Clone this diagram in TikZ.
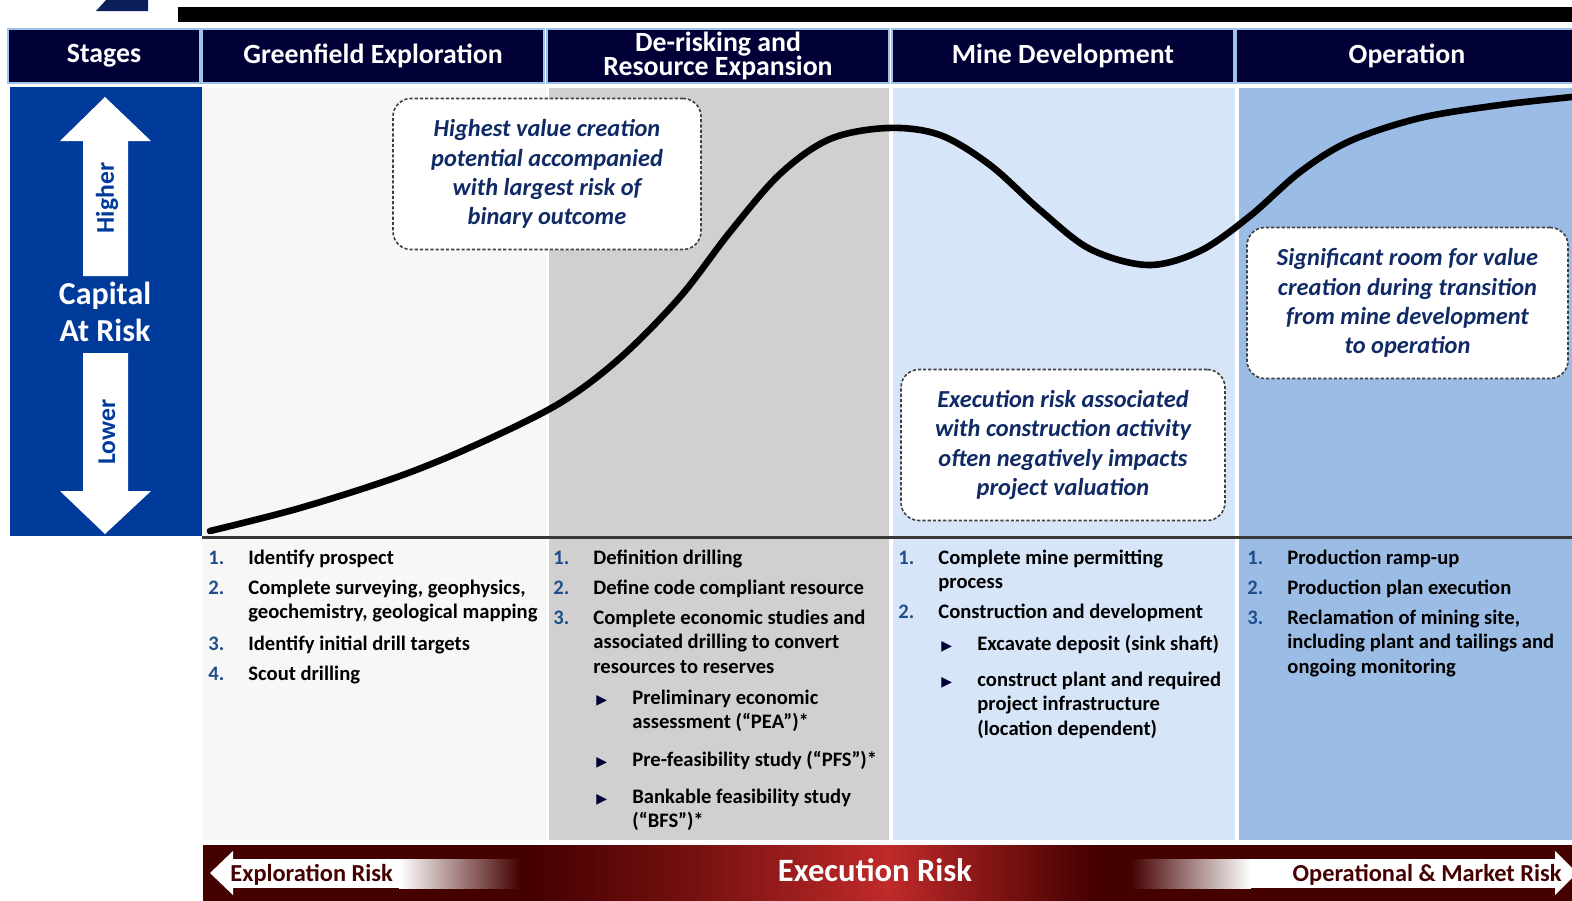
\documentclass[tikz,border=0pt]{standalone}
\usepackage{fontspec}
\setmainfont{Carlito}
\newfontfamily\symfont{DejaVu Sans}

\definecolor{navyhead}{RGB}{0,0,55}
\definecolor{headline}{RGB}{157,195,230}
\definecolor{capblue}{RGB}{0,59,155}
\definecolor{logoblue}{RGB}{10,31,92}
\definecolor{colgrey1}{RGB}{247,247,247}
\definecolor{colgrey2}{RGB}{208,208,208}
\definecolor{colblue1}{RGB}{214,229,248}
\definecolor{colblue2}{RGB}{155,189,229}
\definecolor{numblue}{RGB}{31,78,140}
\definecolor{calloutblue}{RGB}{16,42,102}
\definecolor{bardark}{RGB}{69,0,0}
\definecolor{barred}{RGB}{192,42,42}

\pgfdeclarehorizontalshading{riskbar}{100bp}{color(0bp)=(bardark); color(25bp)=(bardark);
  color(37bp)=(bardark); color(43bp)=(bardark!60!barred); color(50bp)=(barred);
  color(57.5bp)=(bardark); color(75bp)=(bardark); color(100bp)=(bardark)}

\tikzset{header/.style={draw=headline,line width=0.8pt,fill=navyhead,text=white,
                        font=\fontsize{13.9}{10.5}\selectfont\bfseries,align=center,
                        minimum height=27pt,inner sep=0pt}}
\tikzset{callout/.style={draw=black!75,fill=white,dash pattern=on 1.6pt off 1pt,
                         line width=0.8pt,rounded corners=9pt,align=center,
                         text=calloutblue,font=\fontsize{12.2}{14.6}\selectfont\bfseries\itshape,
                         minimum height=75.5pt,inner sep=0pt}}
\tikzset{listnum/.style={anchor=base west,inner sep=0pt,text=numblue,
                         font=\fontsize{10.3}{12.25}\selectfont\bfseries}}
\tikzset{listtxt/.style={anchor=base west,inner sep=0pt,
                         font=\fontsize{10.3}{12.25}\selectfont\bfseries}}
\tikzset{riskarrow/.style={anchor=base west,inner sep=0pt,text=bardark,
                           font=\fontsize{12.2}{13}\selectfont\bfseries}}
\tikzset{valuecurve/.style={line width=3.3pt,line cap=round}}

% numbered point: name, x, y (baseline), number, text
\newcommand{\stageitem}[5]{\node[listnum] (#1n) at (#2,#3) {#4.};
                           \node[listtxt] (#1) at (#2+40,#3) {\parbox[t]{160pt}{#5}};}
% sub point with triangle bullet
\newcommand{\stagesub}[4]{\node[listnum,text=navyhead] (#1n) at (#2,#3)
                             {\symfont\fontsize{7}{7}\selectfont ▶};
                          \node[listtxt] (#1) at (#2+36,#3) {\parbox[t]{130pt}{#4}};}

\begin{document}
\begin{tikzpicture}[x=0.5pt,y=-0.5pt]
    \useasboundingbox (0,0) rectangle (1572,900);
    % top strip
    \fill[logoblue] (96,11) -- (106,0) -- (148,0) -- (148,11) -- cycle;
    \fill[black] (178,7) rectangle (1572,22);
    % column backgrounds
    \fill[colgrey1] (202,88) rectangle (546,840);
    \fill[colgrey2] (549,88) rectangle (889,840);
    \fill[colblue1] (893,88) rectangle (1235,840);
    \fill[colblue2] (1239,88) rectangle (1572,840);
    \draw[black!78,line width=1.5pt] (202,537) -- (1572,537);
    % header row
    \foreach \cx/\w/\t [count=\hi] in {104/96/Stages,
                                       373/171/Greenfield Exploration,
                                       718/171/{De-risking and\\[-1.2pt]Resource Expansion},
                                       1063/171/Mine Development,
                                       1407/171/Operation}{%
          \node[header,minimum width=\w pt] (h\hi) at (\cx,56) {\t};
        }
    % capital at risk
    \fill[capblue] (10,87) rectangle (202,536);
    \fill[white] (105,97) -- (151,141) -- (128,141) -- (128,276) -- (83,276)
                 -- (83,141) -- (60,141) -- cycle;
    \fill[white] (83,353) -- (128,353) -- (128,491) -- (151,491) -- (105,534)
                 -- (60,491) -- (83,491) -- cycle;
    \node[rotate=90,text=capblue,font=\fontsize{12.8}{13}\selectfont\bfseries]
         (higher) at (107,198) {Higher};
    \node[rotate=90,text=capblue,font=\fontsize{12.8}{13}\selectfont\bfseries]
         (lower) at (107,432) {Lower};
    \node[text=white,align=center,font=\fontsize{16}{18.5}\selectfont\bfseries]
         (capital) at (105,312) {Capital\\At Risk};
    % value curve
    \draw[valuecurve] plot[smooth,tension=0.55] coordinates {(210,531) (300,508) (400,476)
        (480,443) (560,403) (620,358) (680,297) (730,232) (780,174) (830,139)
        (888,128) (940,135) (990,165) (1040,210) (1090,249) (1148,265) (1200,251)
        (1250,216) (1300,172) (1350,141) (1420,118) (1500,105) (1572,97)};
    % callouts
    \node[callout,minimum width=154pt] (c1) at (547,174)
         {Highest value creation\\potential accompanied\\with largest risk of\\binary outcome};
    \node[callout,minimum width=162pt] (c2) at (1063,445)
         {Execution risk associated\\with construction activity\\often negatively impacts\\project valuation};
    \node[callout,minimum width=160.5pt] (c3) at (1407.5,303)
         {Significant room for value\\creation during transition\\from mine development\\to operation};
    % stage activities
    \stageitem{ga}{208}{564}{1}{Identify prospect}
    \stageitem{gb}{208}{594}{2}{Complete surveying, geophysics,\\geochemistry, geological mapping}
    \stageitem{gc}{208}{650}{3}{Identify initial drill targets}
    \stageitem{gd}{208}{680}{4}{Scout drilling}
    \stageitem{da}{553}{564}{1}{Definition drilling}
    \stageitem{db}{553}{594}{2}{Define code compliant resource}
    \stageitem{dc}{553}{624}{3}{Complete economic studies and\\associated drilling to convert\\resources to reserves}
    \stagesub{dd}{596}{704}{Preliminary economic\\assessment (“PEA”)*}
    \stagesub{de}{596}{766}{Pre-feasibility study (“PFS”)*}
    \stagesub{df}{596}{803}{Bankable feasibility study\\(“BFS”)*}
    \stageitem{ma}{898}{564}{1}{Complete mine permitting\\process}
    \stageitem{mb}{898}{618}{2}{Construction and development}
    \stagesub{mc}{941}{650}{Excavate deposit (sink shaft)}
    \stagesub{md}{941}{686}{construct plant and required\\project infrastructure\\(location dependent)}
    \stageitem{oa}{1247}{564}{1}{Production ramp-up}
    \stageitem{ob}{1247}{594}{2}{Production plan execution}
    \stageitem{oc}{1247}{624}{3}{Reclamation of mining site,\\including plant and tailings and\\ongoing monitoring}
    % risk bar
    \shade[shading=riskbar] (203,845) rectangle (1572,900);
    \fill[white] (231,859) rectangle (400,888);
    \shade[left color=white,right color=bardark] (399,859) rectangle (520,888);
    \fill[white] (210,873) -- (233,851) -- (233,895) -- cycle;
    \shade[left color=bardark,right color=white] (1130,859) rectangle (1251,888);
    \fill[white] (1250,859) rectangle (1556,888);
    \fill[white] (1555,851) -- (1577,873) -- (1555,895) -- cycle;
    \node[riskarrow] (explore) at (230,881) {Exploration Risk};
    \node[riskarrow,anchor=base east] (market) at (1562,881) {Operational \& Market Risk};
    \node[text=white,font=\fontsize{16.3}{18}\selectfont\bfseries] (execution) at (875,870)
         {Execution Risk};
\end{tikzpicture}
\end{document}
